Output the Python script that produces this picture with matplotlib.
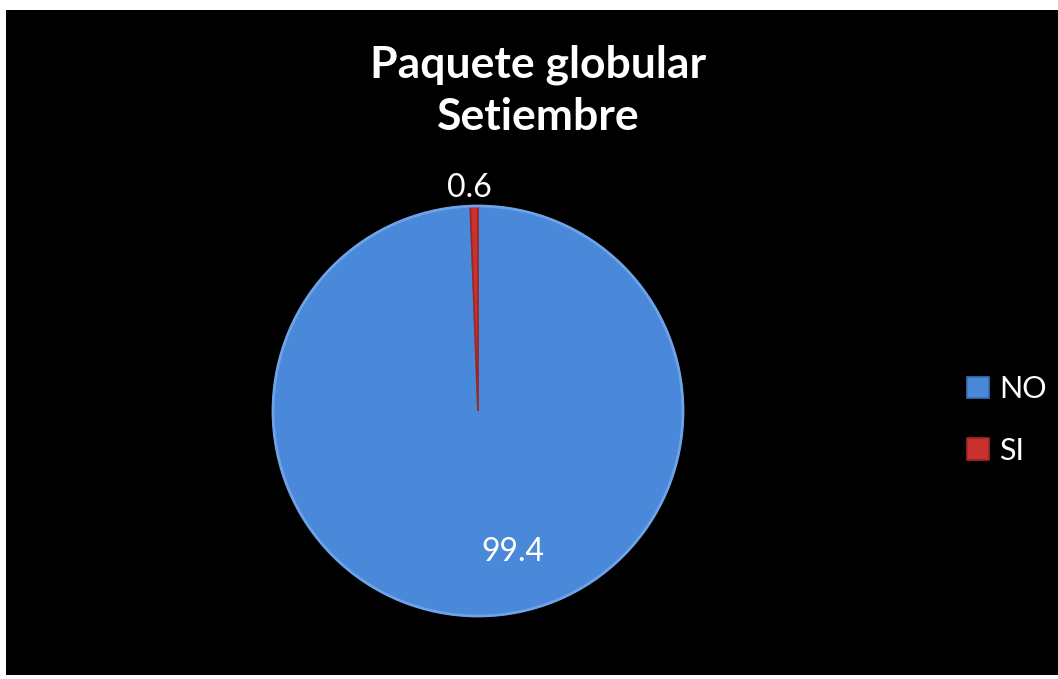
import matplotlib.pyplot as plt
from matplotlib.patches import Rectangle

# data
categories = ["NO", "SI"]
values = [99.4, 0.6]
colors = ["#4a88d9", "#c8312c"]
title = "Paquete globular\nSetiembre"

W, H = 1058, 679
fig = plt.figure(figsize=(W / 100, H / 100), dpi=100)
fig.patch.set_facecolor("white")

# black chart area with thin white margin
fig.patches.append(Rectangle((6 / W, 4 / H), 1 - 6 / W, 1 - 14 / H,
                             transform=fig.transFigure, facecolor="black",
                             edgecolor="none", zorder=-10))

fig.text(538 / W, 1 - 91 / H, title, ha="center", va="center",
         fontsize=32, fontweight="bold", color="white", family="Lato",
         linespacing=1.35)

# pie axes: centre (478, 411), radius 205 px
r = 205
ax = fig.add_axes([(478 - r) / W, (H - 411 - r) / H, 2 * r / W, 2 * r / H])
ax.set_facecolor("none")
wedges, _ = ax.pie(values, colors=colors, startangle=90, counterclock=False,
                   radius=1, wedgeprops=dict(edgecolor="#3a6fb5", linewidth=1.2))
wedges[1].set_edgecolor("#9e2622")
# soft rim highlight
ax.pie([100], colors=["none"], radius=1,
       wedgeprops=dict(edgecolor="#6fa3e8", linewidth=2, fill=False))
ax.set_xlim(-1, 1)
ax.set_ylim(-1, 1)
ax.set_aspect("equal")
ax.axis("off")

# data labels
ax.text(0.17, -0.69, f"{values[0]:.1f}", ha="center", va="center",
        fontsize=23, color="white", family="Lato")
ax.text(-0.04, 1.09, f"{values[1]:.1f}", ha="center", va="center",
        fontsize=23, color="white", family="Lato", clip_on=False)

leg = fig.legend(wedges, categories, loc="center left",
                 bbox_to_anchor=(952 / W, 1 - 420 / H), frameon=False,
                 labelcolor="white", handlelength=0.7,
                 handleheight=0.7, handletextpad=0.35, labelspacing=1.1,
                 borderpad=0, prop={"family": "Lato", "size": 22})

fig.savefig("out.png", dpi=100, facecolor=fig.get_facecolor())
